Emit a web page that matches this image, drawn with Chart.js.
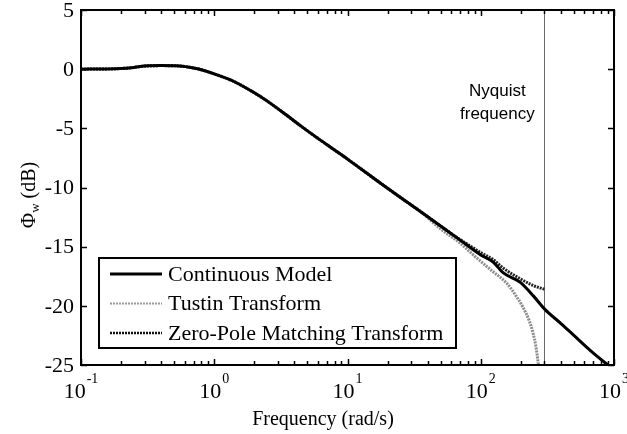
<!DOCTYPE html>
<html>
<head>
<meta charset="utf-8">
<script src="https://cdn.jsdelivr.net/npm/chart.js@4"></script>
<style>
  body { margin: 0; background: #fff; }
  canvas { display: block; }
</style>
</head>
<body>
<canvas id="myChart" width="627" height="434"></canvas>
<script>
// frequency (rad/s) and spectrum level (dB) for each model
const contFreq = [0.1, 0.15, 0.2, 0.25, 0.3, 0.4, 0.55, 0.7, 0.8, 1, 1.38, 2, 2.5, 3.5, 4.4, 6, 7.8, 10, 14, 17.5, 25, 35, 56, 70, 100, 124, 147, 197, 250, 303, 400, 500, 700, 900, 1000];
const contDb = [0.0, 0.02, 0.06, 0.15, 0.26, 0.3, 0.27, 0.1, -0.05, -0.4, -1.0, -2.0, -2.7, -3.9, -4.75, -5.85, -6.75, -7.6, -8.8, -9.6, -10.85, -12.0, -13.65, -14.45, -15.7, -16.3, -17.2, -18.0, -19.2, -20.3, -21.5, -22.5, -24.0, -25.0, -25.4];

const tustinFreq = [0.1, 0.15, 0.2, 0.25, 0.3, 0.4, 0.55, 0.7, 0.8, 1, 1.38, 2, 2.5, 3.5, 4.4, 6, 7.8, 10, 14, 17.5, 25, 35, 50, 70, 90, 120, 157, 180, 207, 230, 247, 260, 270, 282, 292];
const tustinDb = [0.0, 0.02, 0.06, 0.15, 0.26, 0.3, 0.27, 0.1, -0.05, -0.4, -1.0, -2.0, -2.7, -3.9, -4.75, -5.85, -6.75, -7.6, -8.8, -9.6, -10.85, -12.0, -13.5, -14.7, -15.8, -17.0, -18.1, -19.0, -20.1, -21.2, -22.3, -23.5, -24.9, -27.5, -32.0];

const zpFreq = [0.1, 0.15, 0.2, 0.25, 0.3, 0.4, 0.55, 0.7, 0.8, 1, 1.38, 2, 2.5, 3.5, 4.4, 6, 7.8, 10, 14, 17.5, 25, 35, 56, 70, 85, 100, 124, 147, 197, 250, 300];
const zpDb = [0.0, 0.02, 0.06, 0.15, 0.26, 0.3, 0.27, 0.1, -0.05, -0.4, -1.0, -2.0, -2.7, -3.9, -4.75, -5.85, -6.75, -7.6, -8.8, -9.6, -10.85, -12.0, -13.65, -14.4, -15.0, -15.5, -16.1, -16.8, -17.7, -18.3, -18.6];

const nyquistFreq = 300;

// axis ticks
const xTickValues = [0.1, 1, 10, 100, 1000];
const xTickExps = ['-1', '0', '1', '2', '3'];
const yTickValues = [5, 0, -5, -10, -15, -20, -25];

const serif = '"Liberation Serif", "Times New Roman", serif';
const sans = '"Liberation Sans", Arial, sans-serif';

function pts(xs, ys) {
  return xs.map((x, i) => ({ x: x, y: ys[i] }));
}

const data = {
  datasets: [{
    label: 'Continuous Model',
    data: pts(contFreq, contDb),
    borderColor: '#000',
    borderWidth: 3,
    legendColor: '#000',
    legendWidth: 3,
    legendDash: []
  }, {
    label: 'Tustin Transform',
    data: pts(tustinFreq, tustinDb),
    borderColor: '#8c8c8c',
    borderWidth: 3,
    borderDash: [2, 1],
    legendColor: '#9a9a9a',
    legendWidth: 2,
    legendDash: [2, 1]
  }, {
    label: 'Zero-Pole Matching Transform',
    data: pts(zpFreq, zpDb),
    borderColor: '#222',
    borderWidth: 3,
    borderDash: [2, 1],
    legendColor: '#111',
    legendWidth: 2.5,
    legendDash: [2, 1]
  }]
};

const nyquistLine = {
  id: 'nyquistLine',
  beforeDatasetsDraw(chart) {
    const ctx = chart.ctx;
    const area = chart.chartArea;
    const x = Math.round(chart.scales.x.getPixelForValue(nyquistFreq)) + 0.5;
    ctx.save();
    ctx.strokeStyle = '#6a6a6a';
    ctx.lineWidth = 1;
    ctx.beginPath();
    ctx.moveTo(x, area.top);
    ctx.lineTo(x, area.bottom);
    ctx.stroke();
    ctx.restore();
  }
};

// box, inward ticks, labels and legend drawn on top of the plot
const axesBox = {
  id: 'axesBox',
  afterDraw(chart) {
    const ctx = chart.ctx;
    const area = chart.chartArea;
    const xs = chart.scales.x;
    const ys = chart.scales.y;
    ctx.save();

    // frame
    ctx.strokeStyle = '#000';
    ctx.lineWidth = 2;
    ctx.strokeRect(area.left, area.top, area.right - area.left, area.bottom - area.top);

    // x ticks (major + minor), bottom and top
    ctx.lineWidth = 1.5;
    ctx.beginPath();
    for (let d = 0; d < xTickValues.length; d++) {
      const dec = xTickValues[d];
      for (let m = 1; m <= 9; m++) {
        const v = dec * m;
        if (v > xTickValues[xTickValues.length - 1]) break;
        const px = Math.round(xs.getPixelForValue(v)) + 0.5;
        const len = m === 1 ? 6 : 4;
        ctx.moveTo(px, area.bottom);
        ctx.lineTo(px, area.bottom - len);
        ctx.moveTo(px, area.top);
        ctx.lineTo(px, area.top + len);
      }
    }
    // y ticks, left and right
    yTickValues.forEach(v => {
      const py = Math.round(ys.getPixelForValue(v)) + 0.5;
      ctx.moveTo(area.left, py);
      ctx.lineTo(area.left + 6, py);
      ctx.moveTo(area.right, py);
      ctx.lineTo(area.right - 6, py);
    });
    ctx.stroke();

    // y tick labels
    ctx.fillStyle = '#000';
    ctx.font = '22px ' + serif;
    ctx.textAlign = 'right';
    ctx.textBaseline = 'middle';
    yTickValues.forEach(v => {
      ctx.fillText(String(v), area.left - 7, ys.getPixelForValue(v) + 1);
    });

    // x tick labels as 10 with raised exponent
    ctx.textBaseline = 'alphabetic';
    ctx.textAlign = 'left';
    xTickValues.forEach((v, i) => {
      ctx.font = '22px ' + serif;
      const wBase = ctx.measureText('10').width;
      ctx.font = '14px ' + serif;
      const wExp = ctx.measureText(xTickExps[i]).width;
      const x0 = xs.getPixelForValue(v) - (wBase + wExp + 1) / 2;
      ctx.font = '22px ' + serif;
      ctx.fillText('10', x0, area.bottom + 33);
      ctx.font = '14px ' + serif;
      ctx.fillText(xTickExps[i], x0 + wBase + 1, area.bottom + 18);
    });

    // x axis title
    ctx.font = '20px ' + serif;
    ctx.textAlign = 'center';
    ctx.fillText('Frequency (rad/s)', 323, area.bottom + 60);

    // y axis title: Phi with subscript w
    ctx.save();
    ctx.translate(35, 195);
    ctx.rotate(-Math.PI / 2);
    ctx.textAlign = 'left';
    ctx.font = '21px ' + serif;
    const wPhi = ctx.measureText('\u03A6').width;
    ctx.font = '13px ' + serif;
    const wSub = ctx.measureText('w').width;
    ctx.font = '20px ' + serif;
    const wRest = ctx.measureText(' (dB)').width;
    let tx = -(wPhi + wSub + wRest) / 2;
    ctx.font = '21px ' + serif;
    ctx.fillText('\u03A6', tx, 0);
    tx += wPhi;
    ctx.font = '13px ' + serif;
    ctx.fillText('w', tx, 4);
    tx += wSub;
    ctx.font = '20px ' + serif;
    ctx.fillText(' (dB)', tx, 0);
    ctx.restore();

    // Nyquist annotation
    ctx.font = '17px ' + sans;
    ctx.textAlign = 'center';
    const nx = xs.getPixelForValue(nyquistFreq) - 47;
    ctx.fillText('Nyquist', nx, area.top + 86);
    ctx.fillText('frequency', nx, area.top + 109);

    // legend
    const lx = 99, ly = 258, lw = 357, lh = 90;
    ctx.fillStyle = '#fff';
    ctx.fillRect(lx, ly, lw, lh);
    ctx.strokeStyle = '#000';
    ctx.lineWidth = 2;
    ctx.strokeRect(lx, ly, lw, lh);
    ctx.font = '22px ' + serif;
    ctx.textAlign = 'left';
    ctx.textBaseline = 'middle';
    chart.data.datasets.forEach((ds, i) => {
      const rowY = ly + 16 + i * 29.5;
      ctx.strokeStyle = ds.legendColor;
      ctx.lineWidth = ds.legendWidth;
      ctx.setLineDash(ds.legendDash);
      ctx.beginPath();
      ctx.moveTo(lx + 11, rowY);
      ctx.lineTo(lx + 63, rowY);
      ctx.stroke();
      ctx.setLineDash([]);
      ctx.fillStyle = '#000';
      ctx.fillText(ds.label, lx + 69, rowY + 1);
    });

    ctx.restore();
  }
};

const config = {
  type: 'line',
  data: data,
  options: {
    responsive: false,
    animation: false,
    layout: {
      padding: { left: 81, right: 13, top: 10, bottom: 69 }
    },
    elements: {
      point: { radius: 0 },
      line: { cubicInterpolationMode: 'monotone', borderCapStyle: 'butt' }
    },
    scales: {
      x: { type: 'logarithmic', min: 0.1, max: 1000, display: false },
      y: { type: 'linear', min: -25, max: 5, display: false }
    },
    plugins: {
      legend: { display: false },
      tooltip: { enabled: false }
    }
  },
  plugins: [nyquistLine, axesBox]
};

const ctx = document.getElementById('myChart');
const myChart = new Chart(ctx, config);
</script>
</body>
</html>
